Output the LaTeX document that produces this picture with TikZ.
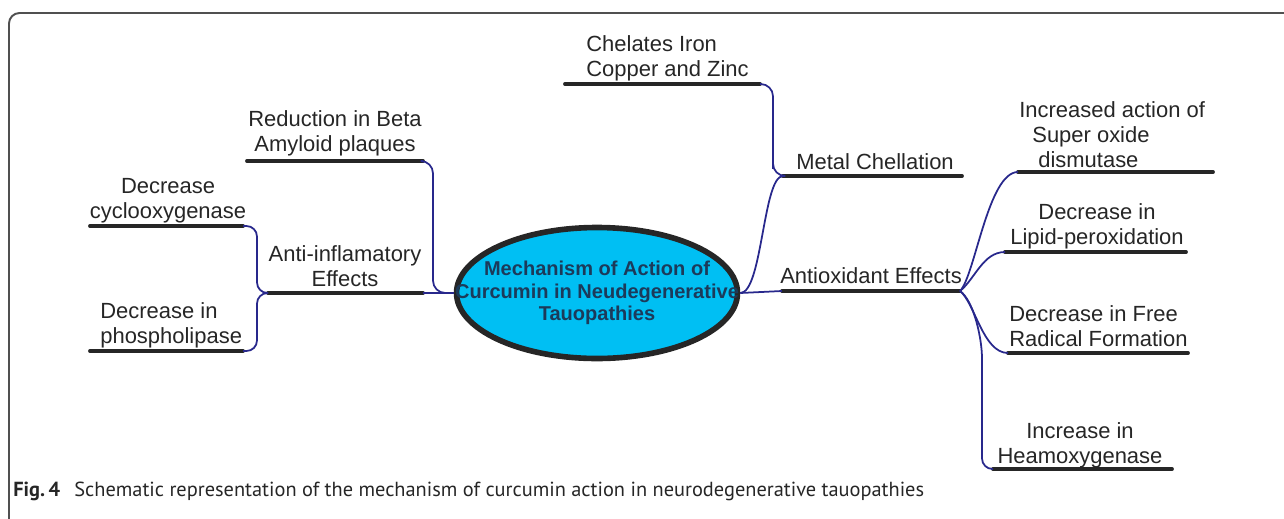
\documentclass[tikz,border=0pt]{standalone}
\usepackage{fontspec}
\setmainfont{Liberation Sans}
\newfontfamily\capfont{PT Sans}
\usetikzlibrary{shapes.geometric,calc,positioning}
\definecolor{linkblue}{RGB}{40,40,140}
\definecolor{hubcyan}{RGB}{0,191,243}
\definecolor{hubtext}{RGB}{28,58,90}
\definecolor{labeltext}{RGB}{38,38,38}
\definecolor{framegray}{RGB}{80,80,80}

\begin{document}
\begin{tikzpicture}[x=0.02cm, y=-0.02cm,
  lbl/.style={font=\fontsize{12.5}{14.2}\selectfont, text=labeltext, align=center, inner sep=0pt},
  uline/.style={line width=2.2pt, line cap=round, draw=black!85},
  link/.style={line width=1pt, draw=linkblue},
  hub/.style={ellipse, draw=black!85, line width=3.2pt, fill=hubcyan, minimum width=5.62cm, minimum height=2.62cm, inner sep=0pt},
  hubtxt/.style={align=center, inner sep=0pt, text=hubtext, font=\fontsize{11.4}{12.9}\selectfont\bfseries}]
\useasboundingbox (0,0) rectangle (1284,518);
\draw[framegray, line width=1.1pt, rounded corners=6pt] (9,530) -- (9,13) -- (1300,13);

% centre
\node[hub] (hub) at (597,293) {};
\node[hubtxt] (hubtext) at (hub.center) {Mechanism of Action of\\Curcumin in Neudegenerative\\Tauopathies};

% labels
\node[lbl, anchor=west, align=left] (chel) at (586,58) {Chelates Iron\\Copper and Zinc};
\node[lbl] (red) at (335,133) {Reduction in Beta\\Amyloid plaques};
\node[lbl] (cyclo) at (168,201) {Decrease\\cyclooxygenase};
\node[lbl] (anti) at (345,266) {Anti-inflamatory\\Effects};
\node[lbl, anchor=west, align=left] (phos) at (100,325) {Decrease in\\phospholipase};
\node[lbl] (metal) at (875,162) {Metal Chellation};
\node[lbl] (antiox) at (871,276) {Antioxidant Effects};
\node[lbl, anchor=west, align=left] (sod) at (1019,135) {Increased action of\\\hspace*{0.26cm}Super oxide\\\hspace*{0.38cm}dismutase};
\node[lbl] (lipid) at (1097,226) {Decrease in\\Lipid-peroxidation};
\node[lbl, anchor=west, align=left] (free) at (1009,326) {Decrease in Free\\Radical Formation};
\node[lbl] (heamo) at (1080,445) {Increase in\\Heamoxygenase};

% underline ends
\coordinate (chel-l) at (565,84);    \coordinate (chel-r) at (760,84);
\coordinate (red-l) at (247,161);    \coordinate (red-r) at (423,161);
\coordinate (cyclo-l) at (90,226);   \coordinate (cyclo-r) at (243,226);
\coordinate (anti-l) at (268,293);   \coordinate (anti-r) at (423,293);
\coordinate (phos-l) at (90,351);    \coordinate (phos-r) at (243,351);
\coordinate (metal-l) at (783,176);  \coordinate (metal-r) at (962,176);
\coordinate (antiox-l) at (782,291); \coordinate (antiox-r) at (960,291);
\coordinate (sod-l) at (1018,172);   \coordinate (sod-r) at (1213,172);
\coordinate (lipid-l) at (1005,252); \coordinate (lipid-r) at (1186,252);
\coordinate (free-l) at (1008,353);  \coordinate (free-r) at (1188,353);
\coordinate (heamo-l) at (993,469);  \coordinate (heamo-r) at (1172,469);

\foreach \n in {chel,red,cyclo,anti,phos,metal,antiox,sod,lipid,free,heamo}
  \draw[uline] (\n-l) -- (\n-r);

% left side
\draw[link] (hub.west) -- (anti-r);
\draw[link, rounded corners=7pt] (red-r) -| ([xshift=0.2cm]anti-r) -- (hub.west);
\draw[link, rounded corners=6pt] (anti-l) -- ++(-11,0) |- (cyclo-r);
\draw[link, rounded corners=6pt] (anti-l) -- ++(-11,0) |- (phos-r);

% right side
\draw[link] (hub.east) -- (antiox-l);
\draw[link] (hub.east) .. controls +(22,0) and +(-20,0) .. (metal-l);
\draw[link, rounded corners=7pt] (chel-r) -| ([xshift=-0.2cm]metal-l) |- (metal-l);
\draw[link] (antiox-r) .. controls +(15,-15) and +(-30,0) .. (sod-l);
\draw[link] (antiox-r) .. controls +(15,-12) and +(-22,0) .. (lipid-l);
\draw[link] (antiox-r) .. controls +(15,12) and +(-25,0) .. (free-l);
\draw[link, rounded corners=6pt] (antiox-r) .. controls +(14,10) and +(0,-30) .. ($(heamo-l)+(-11,-100)$) |- (heamo-l);

% caption
\node[anchor=base west, inner sep=0pt, text=black!85, font=\capfont\fontsize{11.6}{13}\selectfont] (caption) at (13,496) {\textbf{Fig.\,4}\hspace{0.7em}Schematic representation of the mechanism of curcumin action in neurodegenerative tauopathies};
\end{tikzpicture}
\end{document}
